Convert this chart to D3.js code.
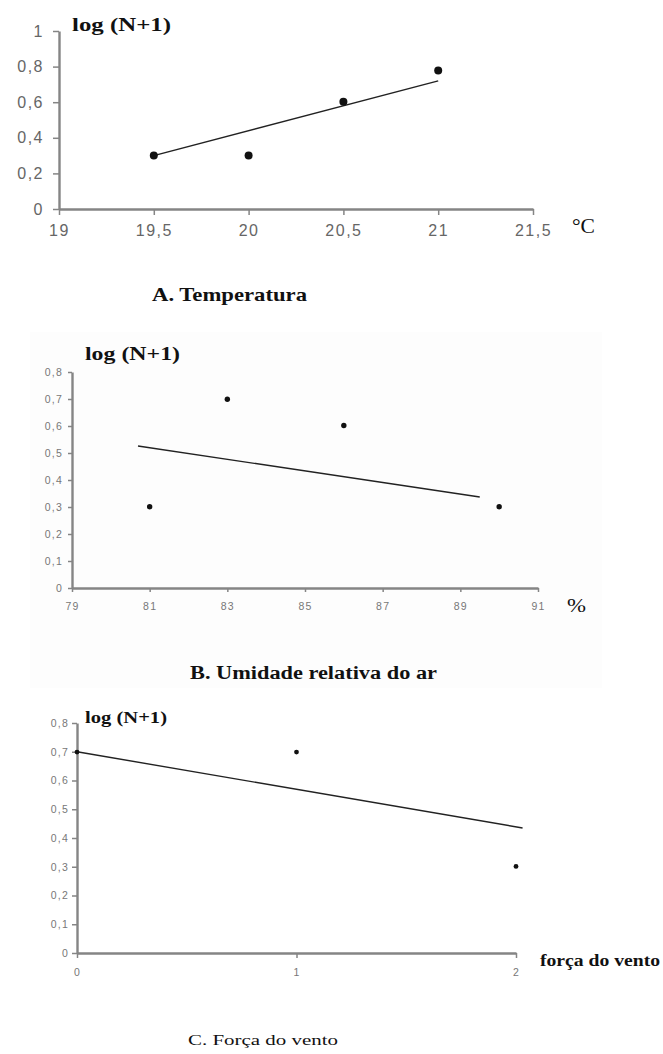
<!DOCTYPE html>
<html lang="pt">
<head>
<meta charset="UTF-8">
<title>log (N+1)</title>
<script src="https://cdn.jsdelivr.net/npm/d3@7"></script>
<style>
  body { margin: 0; background: #fff; }
  .tick text { font-family: "Liberation Sans", Arial, sans-serif; }
  .axis path.domain, .axis .tick line { stroke: #858585; }
  .serif { font-family: "Liberation Serif", "DejaVu Serif", "Times New Roman", serif; fill: #111; }
</style>
</head>
<body>
<div id="root"></div>
<script>
// A. Temperatura
const tempX = [19.5, 20, 20.5, 21]
const tempY = [0.301, 0.301, 0.602, 0.778]
const tempTrendX = [19.5, 21]
const tempTrendY = [0.30, 0.72]
const tempXTicks = [19, 19.5, 20, 20.5, 21, 21.5]
const tempYTicks = [0, 0.2, 0.4, 0.6, 0.8, 1]

// B. Umidade relativa do ar
const humX = [81, 83, 86, 90]
const humY = [0.301, 0.699, 0.602, 0.301]
const humTrendX = [80.7, 89.5]
const humTrendY = [0.526, 0.337]
const humXTicks = [79, 81, 83, 85, 87, 89, 91]
const humYTicks = [0, 0.1, 0.2, 0.3, 0.4, 0.5, 0.6, 0.7, 0.8]

// C. Força do vento
const windX = [0, 1, 2]
const windY = [0.699, 0.699, 0.301]
const windTrendX = [0, 2.03]
const windTrendY = [0.70, 0.435]
const windXTicks = [0, 1, 2]
const windYTicks = [0, 0.1, 0.2, 0.3, 0.4, 0.5, 0.6, 0.7, 0.8]

const width = 663, height = 1054
const svg = d3.select("#root").append("svg").attr("width", width).attr("height", height)

// very faint grey backdrop behind panel B (scan artefact in the original)
svg.append("rect").attr("x", 30).attr("y", 332).attr("width", 572).attr("height", 356).attr("fill", "#fdfdfd")

const fmt = d => String(d).replace(".", ",")

function drawPanel(p) {
  const x = d3.scaleLinear().domain(p.xDomain).range(p.xRange)
  const y = d3.scaleLinear().domain(p.yDomain).range(p.yRange)
  const g = svg.append("g")

  const xAxis = d3.axisBottom(x).tickValues(p.xTicks).tickFormat(fmt)
    .tickSize(p.tick).tickSizeOuter(0).tickPadding(p.xPad)
  const yAxis = d3.axisLeft(y).tickValues(p.yTicks).tickFormat(fmt)
    .tickSize(p.tick).tickSizeOuter(0).tickPadding(p.yPad)

  g.append("g").attr("class", "axis").attr("transform", "translate(0," + p.yRange[0] + ")").call(xAxis)
  g.append("g").attr("class", "axis").attr("transform", "translate(" + p.xRange[0] + ",0)").call(yAxis)
  g.selectAll(".axis path.domain").attr("stroke-width", 2.4)
  g.selectAll(".axis .tick line").attr("stroke-width", 1.5)
  g.selectAll(".tick text")
    .style("font-size", p.tickFont + "px")
    .style("letter-spacing", p.spacing + "px")
    .attr("fill", p.tickColor)

  // trend line
  g.append("line")
    .attr("x1", x(p.trendX[0])).attr("y1", y(p.trendY[0]))
    .attr("x2", x(p.trendX[1])).attr("y2", y(p.trendY[1]))
    .attr("stroke", "#222").attr("stroke-width", 1.4)

  g.selectAll("circle.pt").data(p.xs).enter().append("circle").attr("class", "pt")
    .attr("cx", d => x(d)).attr("cy", (d, i) => y(p.ys[i]))
    .attr("r", p.r).attr("fill", "#111")

  p.texts.forEach(t => {
    g.append("text").attr("class", "serif")
      .attr("x", t.x).attr("y", t.y)
      .style("font-size", t.size + "px")
      .style("font-weight", t.bold ? "bold" : "normal")
      .attr("textLength", t.len).attr("lengthAdjust", "spacingAndGlyphs")
      .text(t.text)
  })
}

drawPanel({
  xDomain: [19, 21.5], xRange: [59, 533],
  yDomain: [0, 1], yRange: [209, 31],
  xTicks: tempXTicks, yTicks: tempYTicks,
  xs: tempX, ys: tempY, trendX: tempTrendX, trendY: tempTrendY,
  tick: 6, xPad: 10, yPad: 9, tickFont: 16, spacing: 1.5, tickColor: "#666", r: 4,
  texts: [
    { text: "log (N+1)", x: 72, y: 31, size: 19, bold: true, len: 99 },
    { text: "°C", x: 572, y: 233, size: 21, bold: false, len: 23 },
    { text: "A. Temperatura", x: 152, y: 301, size: 19, bold: true, len: 155 }
  ]
})

drawPanel({
  xDomain: [79, 91], xRange: [72, 538],
  yDomain: [0, 0.8], yRange: [588, 372],
  xTicks: humXTicks, yTicks: humYTicks,
  xs: humX, ys: humY, trendX: humTrendX, trendY: humTrendY,
  tick: 4, xPad: 11, yPad: 5, tickFont: 10.5, spacing: 1.2, tickColor: "#777", r: 2.7,
  texts: [
    { text: "log (N+1)", x: 85, y: 360, size: 18, bold: true, len: 95 },
    { text: "%", x: 567, y: 612, size: 18, bold: false, len: 19 },
    { text: "B. Umidade relativa do ar", x: 190, y: 679, size: 18, bold: true, len: 247 }
  ]
})

drawPanel({
  xDomain: [0, 2], xRange: [77, 516],
  yDomain: [0, 0.8], yRange: [953, 723],
  xTicks: windXTicks, yTicks: windYTicks,
  xs: windX, ys: windY, trendX: windTrendX, trendY: windTrendY,
  tick: 5, xPad: 11, yPad: 3, tickFont: 10.5, spacing: 1.2, tickColor: "#777", r: 2.4,
  texts: [
    { text: "log (N+1)", x: 85, y: 723, size: 16, bold: true, len: 82 },
    { text: "força do vento", x: 540, y: 966, size: 16, bold: true, len: 120 },
    { text: "C. Força do vento", x: 188, y: 1045, size: 15, bold: false, len: 150 }
  ]
})
</script>
</body>
</html>
